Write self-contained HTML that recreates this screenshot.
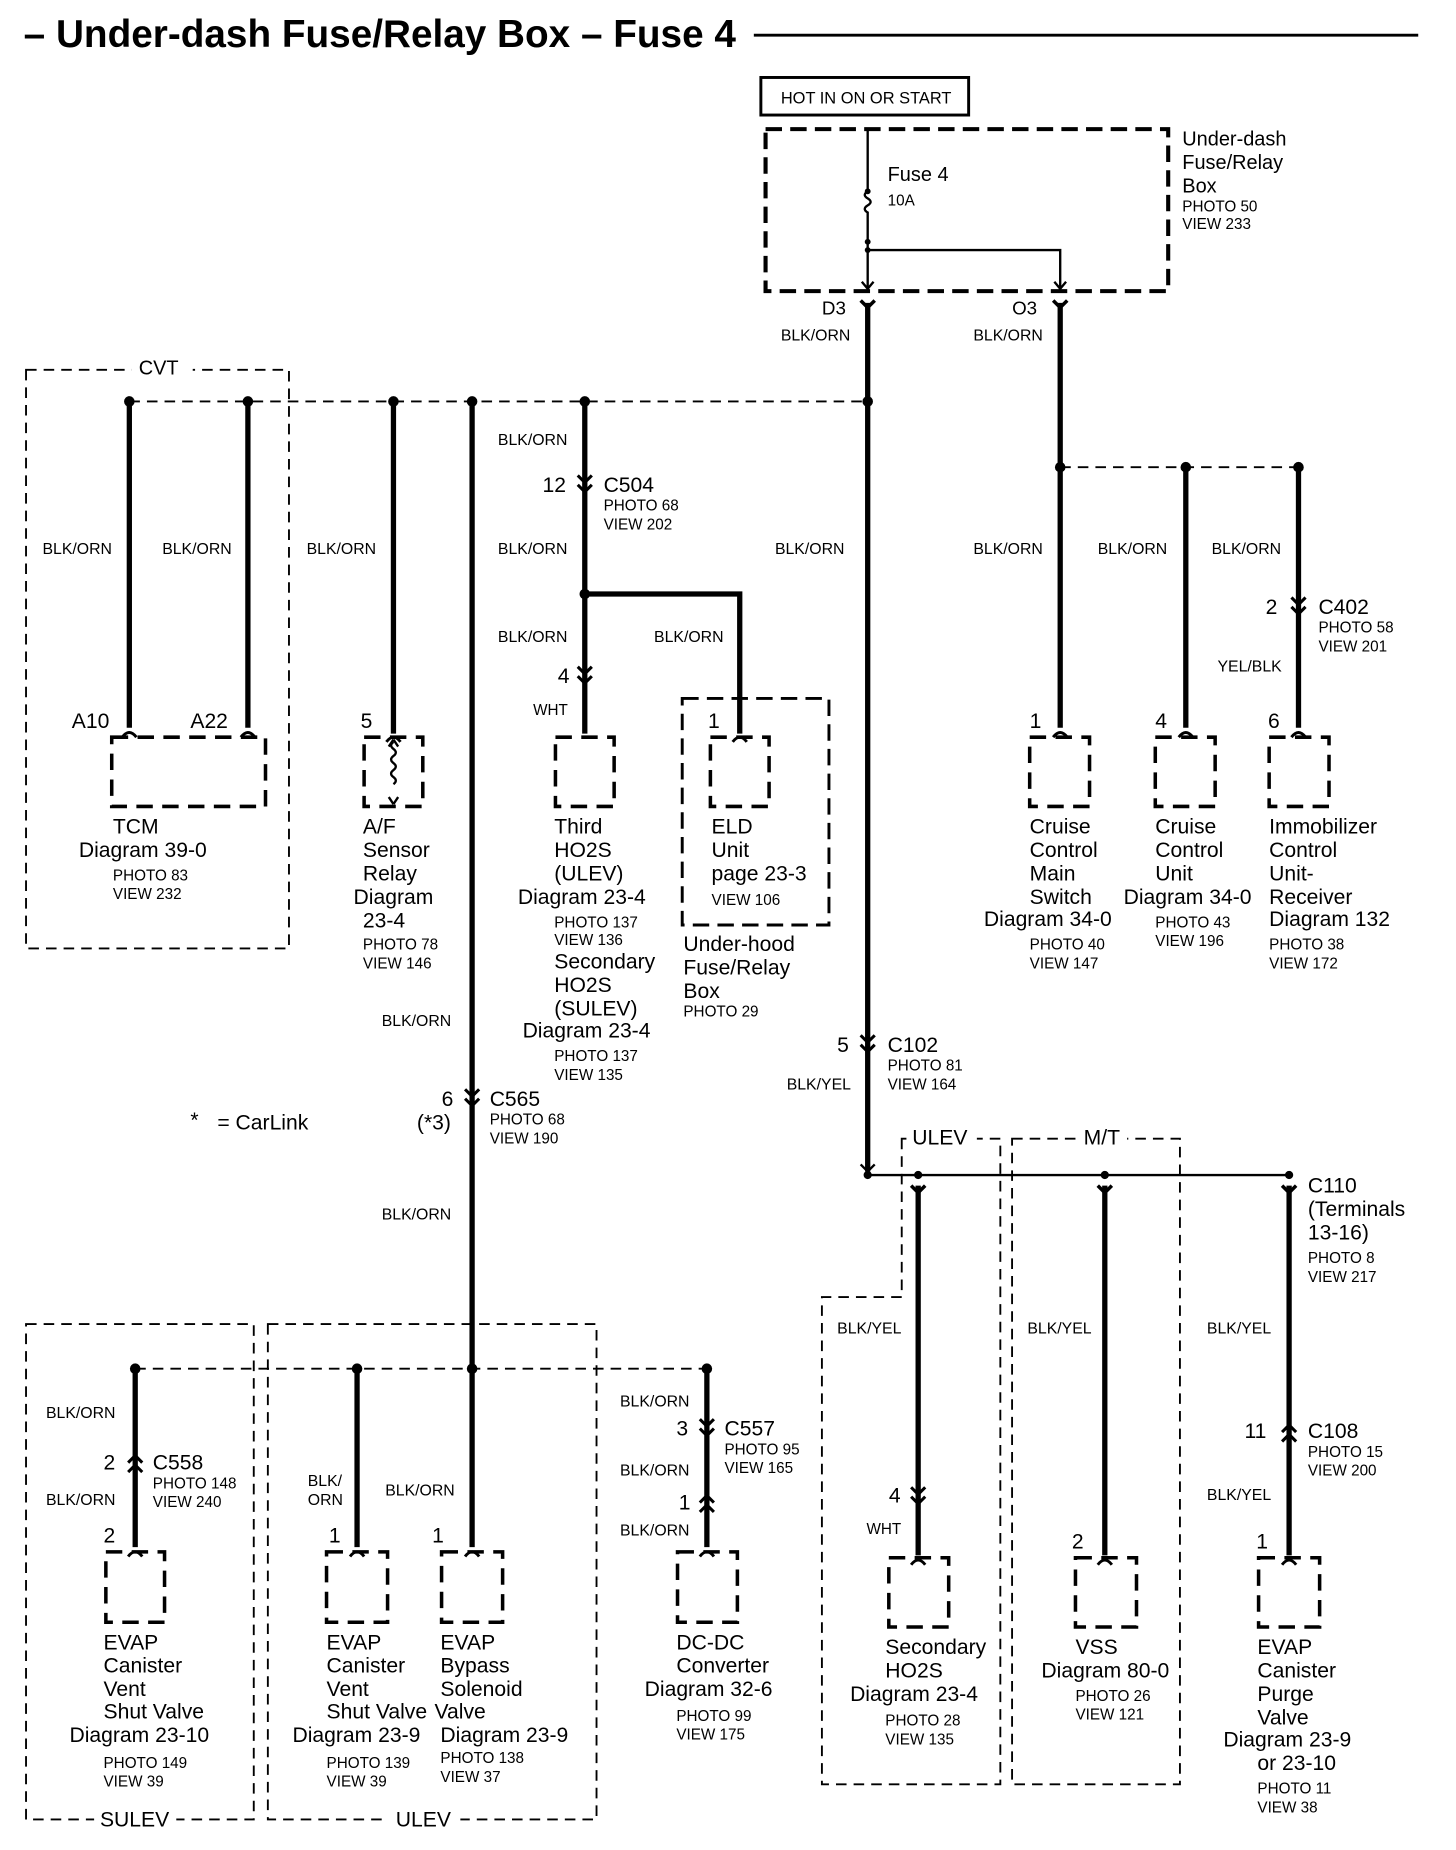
<!DOCTYPE html>
<html><head><meta charset="utf-8"><style>
html,body{margin:0;padding:0;background:#fff;}
svg{display:block;}
text{font-family:"Liberation Sans",Arial,sans-serif;fill:#000;}
.b{font-size:18px}.s{font-size:13px}.w{font-size:13.5px}
.t{stroke:#000;stroke-width:4.5;fill:none}
.n{stroke:#000;stroke-width:2;fill:none}
.d{stroke:#000;stroke-width:1.6;fill:none;stroke-dasharray:9,6}
.bd{stroke:#000;stroke-width:3.5;fill:none;stroke-dasharray:14,7}
.cb{stroke:#000;stroke-width:3;fill:none;stroke-dasharray:14,8}
</style></head><body>
<svg width="1456" height="1850" viewBox="0 0 1240 1576" xmlns="http://www.w3.org/2000/svg">
<defs>
<path id="dc" d="M-6,-9 L0,-3 L6,-9 M-6,-1 L0,5 L6,-1" stroke="#000" stroke-width="2.6" fill="none"/>
<path id="uc" d="M-6,3 L0,-3 L6,3 M-6,11 L0,5 L6,11" stroke="#000" stroke-width="2.6" fill="none"/>
<path id="vy" d="M-6,-6 L0,0 L6,-6" stroke="#000" stroke-width="3" fill="none"/>
<path id="ar" d="M-6,6 Q0,-2 6,6" stroke="#000" stroke-width="2.5" fill="none"/>
</defs>
<!-- title -->
<text x="20" y="40" style="font-size:33px;font-weight:bold">– Under-dash Fuse/Relay Box – Fuse 4</text>
<line x1="642" y1="30" x2="1208" y2="30" stroke="#000" stroke-width="2.5"/>
<rect x="648" y="66" width="177" height="32" fill="none" stroke="#000" stroke-width="2.5"/>
<text x="665" y="88" class="s" style="font-size:14px">HOT IN ON OR START</text>
<rect x="652" y="110" width="343" height="138" class="bd"/>
<text x="1007" y="124" class="b" style="font-size:17px">Under-dash</text>
<text x="1007" y="144" class="b" style="font-size:17px">Fuse/Relay</text>
<text x="1007" y="164" class="b" style="font-size:17px">Box</text>
<text x="1007" y="180" class="s">PHOTO 50</text><text x="1007" y="195" class="s">VIEW 233</text>
<path d="M739,110 V163 q-5,3 0,6 q5,3 0,6 q-5,3 0,6 V245 M739,213 H903 V245" class="n"/>
<circle cx="739" cy="163" r="2.5"/><circle cx="739" cy="206" r="2.5"/><circle cx="739" cy="213" r="2.5"/>
<path d="M734,240 L739,246 L744,240 M898,240 L903,246 L908,240" class="n"/>
<text x="756" y="154" class="b" style="font-size:17px">Fuse 4</text><text x="756" y="175" class="s">10A</text>
<use href="#vy" x="739" y="262"/><use href="#vy" x="903" y="262"/>
<text x="700" y="268" class="b" style="font-size:16px">D3</text><text x="862" y="268" class="b" style="font-size:16px">O3</text>
<text x="665" y="290" class="w">BLK/ORN</text><text x="829" y="290" class="w">BLK/ORN</text>
<path d="M739,258 V998 M903,258 V398" class="t"/>
<!-- top bus -->
<line x1="110" y1="342" x2="739" y2="342" class="d"/>
<g><circle cx="110" cy="342" r="4.5"/><circle cx="211" cy="342" r="4.5"/><circle cx="335" cy="342" r="4.5"/><circle cx="402" cy="342" r="4.5"/><circle cx="498" cy="342" r="4.5"/><circle cx="739" cy="342" r="4.5"/></g>
<path d="M110,342 V620 M211,342 V620 M335,342 V625 M402,342 V1166 M498,342 V625 M498,506 H630 V625" class="t"/>
<circle cx="498" cy="506" r="4.5"/>
<rect x="22" y="315" width="224" height="493" class="d"/>
<rect x="112" y="306" width="52" height="18" fill="#fff"/><text x="118" y="319" class="b" style="font-size:17px">CVT</text>
<text x="36" y="472" class="w">BLK/ORN</text><text x="138" y="472" class="w">BLK/ORN</text><text x="261" y="472" class="w">BLK/ORN</text>
<text x="424" y="379" class="w">BLK/ORN</text><text x="424" y="472" class="w">BLK/ORN</text><text x="424" y="547" class="w">BLK/ORN</text><text x="557" y="547" class="w">BLK/ORN</text>
<text x="660" y="472" class="w">BLK/ORN</text>
<use href="#dc" x="498" y="414"/><text x="462" y="419" class="b">12</text>
<text x="514" y="419" class="b">C504</text><text x="514" y="435" class="s">PHOTO 68</text><text x="514" y="451" class="s">VIEW 202</text>
<use href="#dc" x="498" y="577"/><text x="475" y="582" class="b">4</text><text x="454" y="609" class="s">WHT</text>
<!-- component boxes top -->
<use href="#ar" x="110" y="622"/><use href="#ar" x="211" y="622"/><use href="#ar" x="335" y="626"/><use href="#ar" x="630" y="626"/>
<path d="M95,628 H226 V687 H95 Z" class="cb"/>
<text x="61" y="620" class="b">A10</text><text x="162" y="620" class="b">A22</text>
<text x="96" y="710" class="b">TCM</text><text x="67" y="730" class="b">Diagram 39-0</text>
<text x="96" y="750" class="s">PHOTO 83</text><text x="96" y="766" class="s">VIEW 232</text>
<rect x="310" y="628" width="50" height="59" class="cb"/>
<path d="M335,630 L331,636 M335,630 L339,636 M335,632 q-4,3 0,6 q4,3 0,6 q-4,3 0,6 q4,3 0,6 q-4,3 0,6 q4,3 0,6 M335,685 L331,679 M335,685 L339,679" class="n" stroke-width="1.5"/>
<text x="307" y="620" class="b">5</text>
<text x="309" y="710" class="b">A/F</text><text x="309" y="730" class="b">Sensor</text><text x="309" y="750" class="b">Relay</text><text x="301" y="770" class="b">Diagram</text><text x="309" y="790" class="b">23-4</text>
<text x="309" y="809" class="s">PHOTO 78</text><text x="309" y="825" class="s">VIEW 146</text>
<rect x="473" y="628" width="50" height="59" class="cb"/>
<text x="472" y="710" class="b">Third</text><text x="472" y="730" class="b">HO2S</text><text x="472" y="750" class="b">(ULEV)</text><text x="441" y="770" class="b">Diagram 23-4</text>
<text x="472" y="790" class="s">PHOTO 137</text><text x="472" y="805" class="s">VIEW 136</text>
<text x="472" y="825" class="b">Secondary</text><text x="472" y="845" class="b">HO2S</text><text x="472" y="865" class="b">(SULEV)</text><text x="445" y="884" class="b">Diagram 23-4</text>
<text x="472" y="904" class="s">PHOTO 137</text><text x="472" y="920" class="s">VIEW 135</text>
<rect x="581" y="595" width="125" height="193" class="bd" style="stroke-width:2.5"/>
<rect x="605" y="628" width="50" height="59" class="cb"/>
<text x="603" y="620" class="b">1</text>
<text x="606" y="710" class="b">ELD</text><text x="606" y="730" class="b">Unit</text><text x="606" y="750" class="b">page 23-3</text><text x="606" y="771" class="s">VIEW 106</text>
<text x="582" y="810" class="b">Under-hood</text><text x="582" y="830" class="b">Fuse/Relay</text><text x="582" y="850" class="b">Box</text><text x="582" y="866" class="s">PHOTO 29</text>
<!-- right upper -->
<line x1="903" y1="398" x2="1106" y2="398" class="d"/>
<circle cx="903" cy="398" r="4.5"/><circle cx="1010" cy="398" r="4.5"/><circle cx="1106" cy="398" r="4.5"/>
<path d="M903,398 V620 M1010,398 V620 M1106,398 V620" class="t"/>
<use href="#ar" x="903" y="622"/><use href="#ar" x="1010" y="622"/><use href="#ar" x="1106" y="622"/>
<text x="829" y="472" class="w">BLK/ORN</text><text x="935" y="472" class="w">BLK/ORN</text><text x="1032" y="472" class="w">BLK/ORN</text>
<use href="#dc" x="1106" y="518"/><text x="1078" y="523" class="b">2</text>
<text x="1123" y="523" class="b">C402</text><text x="1123" y="539" class="s">PHOTO 58</text><text x="1123" y="555" class="s">VIEW 201</text>
<text x="1037" y="572" class="w">YEL/BLK</text>
<rect x="877" y="628" width="51" height="59" class="cb"/><rect x="984" y="628" width="51" height="59" class="cb"/><rect x="1081" y="628" width="51" height="59" class="cb"/>
<text x="877" y="620" class="b">1</text><text x="984" y="620" class="b">4</text><text x="1080" y="620" class="b">6</text>
<text x="877" y="710" class="b">Cruise</text><text x="877" y="730" class="b">Control</text><text x="877" y="750" class="b">Main</text><text x="877" y="770" class="b">Switch</text><text x="838" y="789" class="b">Diagram 34-0</text>
<text x="877" y="809" class="s">PHOTO 40</text><text x="877" y="825" class="s">VIEW 147</text>
<text x="984" y="710" class="b">Cruise</text><text x="984" y="730" class="b">Control</text><text x="984" y="750" class="b">Unit</text><text x="957" y="770" class="b">Diagram 34-0</text>
<text x="984" y="790" class="s">PHOTO 43</text><text x="984" y="806" class="s">VIEW 196</text>
<text x="1081" y="710" class="b">Immobilizer</text><text x="1081" y="730" class="b">Control</text><text x="1081" y="750" class="b">Unit-</text><text x="1081" y="770" class="b">Receiver</text><text x="1081" y="789" class="b">Diagram 132</text>
<text x="1081" y="809" class="s">PHOTO 38</text><text x="1081" y="825" class="s">VIEW 172</text>
<!-- C102 -->
<use href="#dc" x="739" y="891"/><text x="713" y="896" class="b">5</text>
<text x="756" y="896" class="b">C102</text><text x="756" y="912" class="s">PHOTO 81</text><text x="756" y="928" class="s">VIEW 164</text>
<text x="670" y="928" class="w">BLK/YEL</text>
<!-- left middle -->
<text x="325" y="874" class="w">BLK/ORN</text><text x="325" y="1039" class="w">BLK/ORN</text>
<use href="#dc" x="402" y="937"/><text x="376" y="942" class="b">6</text><text x="355" y="962" class="b">(*3)</text>
<text x="417" y="942" class="b">C565</text><text x="417" y="958" class="s">PHOTO 68</text><text x="417" y="974" class="s">VIEW 190</text>
<text x="162" y="960" class="b">*</text><text x="185" y="962" class="b">= CarLink</text>
<!-- lower right bus -->
<path d="M733,992 L739,998 L745,992" class="n" stroke-width="3"/>
<line x1="739" y1="1001" x2="1098" y2="1001" class="n" stroke-width="2.5"/>
<circle cx="739" cy="1001" r="3.5"/><circle cx="782" cy="1001" r="3.5"/><circle cx="941" cy="1001" r="3.5"/><circle cx="1098" cy="1001" r="3.5"/>
<use href="#vy" x="782" y="1016"/><use href="#vy" x="941" y="1016"/><use href="#vy" x="1098" y="1016"/>
<path d="M782,1010 V1325 M941,1010 V1325 M1098,1010 V1325" class="t"/>
<path d="M768,970 H852 V1520 H700 V1105 H768 Z" class="d"/>
<rect x="862" y="970" width="143" height="550" class="d"/>
<rect x="772" y="960" width="60" height="18" fill="#fff"/><text x="777" y="975" class="b">ULEV</text>
<rect x="918" y="960" width="42" height="18" fill="#fff"/><text x="923" y="975" class="b">M/T</text>
<text x="1114" y="1016" class="b">C110</text><text x="1114" y="1036" class="b">(Terminals</text><text x="1114" y="1056" class="b">13-16)</text>
<text x="1114" y="1076" class="s">PHOTO 8</text><text x="1114" y="1092" class="s">VIEW 217</text>
<text x="713" y="1136" class="w">BLK/YEL</text><text x="875" y="1136" class="w">BLK/YEL</text><text x="1028" y="1136" class="w">BLK/YEL</text>
<use href="#uc" x="1098" y="1217"/><text x="1060" y="1225" class="b">11</text>
<text x="1114" y="1225" class="b">C108</text><text x="1114" y="1241" class="s">PHOTO 15</text><text x="1114" y="1257" class="s">VIEW 200</text>
<text x="1028" y="1278" class="w">BLK/YEL</text>
<use href="#dc" x="782" y="1276"/><text x="757" y="1280" class="b">4</text><text x="738" y="1307" class="s">WHT</text>
<use href="#ar" x="782" y="1327"/><use href="#ar" x="941" y="1327"/><use href="#ar" x="1098" y="1327"/>
<rect x="757" y="1327" width="51" height="59" class="cb"/><rect x="916" y="1327" width="52" height="59" class="cb"/><rect x="1072" y="1327" width="52" height="59" class="cb"/>
<text x="913" y="1319" class="b">2</text><text x="1070" y="1319" class="b">1</text>
<text x="754" y="1409" class="b">Secondary</text><text x="754" y="1429" class="b">HO2S</text><text x="724" y="1449" class="b">Diagram 23-4</text>
<text x="754" y="1470" class="s">PHOTO 28</text><text x="754" y="1486" class="s">VIEW 135</text>
<text x="916" y="1409" class="b">VSS</text><text x="887" y="1429" class="b">Diagram 80-0</text>
<text x="916" y="1449" class="s">PHOTO 26</text><text x="916" y="1465" class="s">VIEW 121</text>
<text x="1071" y="1409" class="b">EVAP</text><text x="1071" y="1429" class="b">Canister</text><text x="1071" y="1449" class="b">Purge</text><text x="1071" y="1469" class="b">Valve</text>
<text x="1042" y="1488" class="b">Diagram 23-9</text><text x="1071" y="1508" class="b">or 23-10</text>
<text x="1071" y="1528" class="s">PHOTO 11</text><text x="1071" y="1544" class="s">VIEW 38</text>
<!-- bottom left bus -->
<line x1="115" y1="1166" x2="602" y2="1166" class="d"/>
<circle cx="115" cy="1166" r="4.5"/><circle cx="304" cy="1166" r="4.5"/><circle cx="402" cy="1166" r="4.5"/><circle cx="602" cy="1166" r="4.5"/>
<path d="M115,1166 V1318 M304,1166 V1318 M402,1166 V1318 M602,1166 V1318" class="t"/>
<rect x="22" y="1128" width="194" height="422" class="d"/>
<rect x="228" y="1128" width="280" height="422" class="d"/>
<rect x="80" y="1541" width="70" height="18" fill="#fff"/><text x="85" y="1556" class="b">SULEV</text>
<rect x="330" y="1541" width="62" height="18" fill="#fff"/><text x="337" y="1556" class="b">ULEV</text>
<text x="39" y="1208" class="w">BLK/ORN</text><text x="39" y="1282" class="w">BLK/ORN</text>
<use href="#uc" x="115" y="1243"/><text x="88" y="1252" class="b">2</text>
<text x="130" y="1252" class="b">C558</text><text x="130" y="1268" class="s">PHOTO 148</text><text x="130" y="1284" class="s">VIEW 240</text>
<text x="88" y="1314" class="b">2</text>
<text x="262" y="1266" class="w">BLK/</text><text x="262" y="1282" class="w">ORN</text><text x="328" y="1274" class="w">BLK/ORN</text>
<text x="280" y="1314" class="b">1</text><text x="368" y="1314" class="b">1</text>
<text x="528" y="1198" class="w">BLK/ORN</text><text x="528" y="1257" class="w">BLK/ORN</text><text x="528" y="1308" class="w">BLK/ORN</text>
<use href="#dc" x="602" y="1218"/><text x="576" y="1223" class="b">3</text>
<text x="617" y="1223" class="b">C557</text><text x="617" y="1239" class="s">PHOTO 95</text><text x="617" y="1255" class="s">VIEW 165</text>
<use href="#uc" x="602" y="1277"/><text x="578" y="1286" class="b">1</text>
<use href="#ar" x="115" y="1320"/><use href="#ar" x="304" y="1320"/><use href="#ar" x="402" y="1320"/><use href="#ar" x="602" y="1320"/>
<rect x="90" y="1322" width="50" height="60" class="cb"/><rect x="278" y="1322" width="52" height="60" class="cb"/><rect x="376" y="1322" width="52" height="60" class="cb"/><rect x="577" y="1322" width="51" height="60" class="cb"/>
<text x="88" y="1405" class="b">EVAP</text><text x="88" y="1425" class="b">Canister</text><text x="88" y="1445" class="b">Vent</text><text x="88" y="1464" class="b">Shut Valve</text><text x="59" y="1484" class="b">Diagram 23-10</text>
<text x="88" y="1506" class="s">PHOTO 149</text><text x="88" y="1522" class="s">VIEW 39</text>
<text x="278" y="1405" class="b">EVAP</text><text x="278" y="1425" class="b">Canister</text><text x="278" y="1445" class="b">Vent</text><text x="278" y="1464" class="b">Shut Valve</text><text x="249" y="1484" class="b">Diagram 23-9</text>
<text x="278" y="1506" class="s">PHOTO 139</text><text x="278" y="1522" class="s">VIEW 39</text>
<text x="375" y="1405" class="b">EVAP</text><text x="375" y="1425" class="b">Bypass</text><text x="375" y="1445" class="b">Solenoid</text><text x="370" y="1464" class="b">Valve</text><text x="375" y="1484" class="b">Diagram 23-9</text>
<text x="375" y="1502" class="s">PHOTO 138</text><text x="375" y="1518" class="s">VIEW 37</text>
<text x="576" y="1405" class="b">DC-DC</text><text x="576" y="1425" class="b">Converter</text><text x="549" y="1445" class="b">Diagram 32-6</text>
<text x="576" y="1466" class="s">PHOTO 99</text><text x="576" y="1482" class="s">VIEW 175</text>
</svg>
</body></html>
